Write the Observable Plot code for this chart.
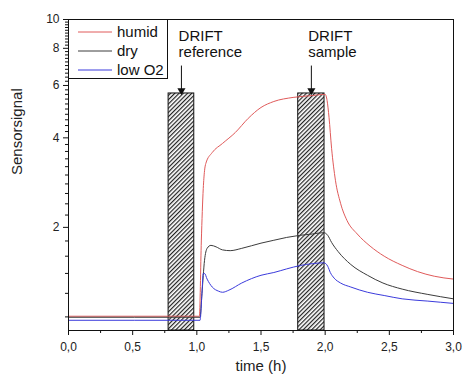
<!DOCTYPE html>
<html><head><meta charset="utf-8">
<script src="https://cdn.jsdelivr.net/npm/d3@7"></script>
<script src="https://cdn.jsdelivr.net/npm/@observablehq/plot@0.6"></script>
<style>body{margin:0;background:#fff}</style>
</head><body><div id="chart"></div>
<script>
// ---- data ----
const seriesNames = ["humid", "dry", "low O2"];
const humidT = [0, 1.02, 1.035, 1.05, 1.06, 1.07, 1.12, 1.2, 1.3, 1.4, 1.5, 1.6, 1.75, 1.9, 1.99, 2.0, 2.015, 2.03, 2.05, 2.08, 2.12, 2.17, 2.25, 2.35, 2.46, 2.6, 2.72, 2.85, 3.0];
const humidV = [1.005, 1.005, 1.8, 2.7, 3.1, 3.28, 3.57, 3.83, 4.17, 4.65, 5.06, 5.3, 5.47, 5.55, 5.6, 5.6, 5.34, 4.69, 3.69, 2.88, 2.41, 2.11, 1.9, 1.73, 1.6, 1.49, 1.42, 1.37, 1.34];
const dryT = [0, 1.025, 1.04, 1.06, 1.08, 1.11, 1.15, 1.2, 1.26, 1.35, 1.5, 1.6, 1.7, 1.8, 1.9, 1.99, 2.02, 2.05, 2.1, 2.2, 2.33, 2.45, 2.6, 2.8, 3.0];
const dryV = [0.997, 0.997, 1.2, 1.55, 1.7, 1.74, 1.72, 1.68, 1.67, 1.7, 1.77, 1.81, 1.85, 1.88, 1.9, 1.92, 1.88, 1.78, 1.66, 1.5, 1.38, 1.3, 1.24, 1.19, 1.15];
const lowT = [0, 1.025, 1.04, 1.05, 1.06, 1.08, 1.12, 1.17, 1.2, 1.25, 1.35, 1.5, 1.6, 1.7, 1.81, 1.9, 1.99, 2.02, 2.04, 2.07, 2.12, 2.2, 2.33, 2.46, 2.6, 2.8, 3.0];
const lowV = [0.974, 0.974, 1.2, 1.4, 1.4, 1.34, 1.26, 1.22, 1.21, 1.23, 1.3, 1.38, 1.41, 1.45, 1.49, 1.51, 1.52, 1.48, 1.41, 1.35, 1.3, 1.26, 1.21, 1.18, 1.15, 1.13, 1.11];
const windowNames = ["DRIFT\nreference", "DRIFT\nsample"];
const windowStart = [0.78, 1.79];
const windowEnd = [0.98, 1.995];
const windowTop = [5.64, 5.64];
const arrowFrom = [7.0, 7.0];
const yBase = 0.9, yMax = 10;
const xMajor = [0, 0.5, 1, 1.5, 2, 2.5, 3];
const xMinor = [0.25, 0.75, 1.25, 1.75, 2.25, 2.75];
const yMajor = [2, 4, 6, 8, 10];
const yMinor = d3.range(10, 100, 2).map(d => d / 10).filter(d => !yMajor.includes(d));
const xLabel = "time (h)", yLabel = "Sensorsignal";

// ---- styles ----
const colors = ["#e05a5a", "#3c3c3c", "#3b3bdc"];
const font = '"Liberation Sans", Arial, sans-serif';

const rows = [];
[[humidT, humidV], [dryT, dryV], [lowT, lowV]].forEach(([T, V], i) =>
  T.forEach((t, j) => rows.push({series: seriesNames[i], t, v: V[j]})));
const windows = windowNames.map((name, i) => ({name, x1: windowStart[i], x2: windowEnd[i], mid: (windowStart[i] + windowEnd[i]) / 2, top: windowTop[i], base: yBase, from: arrowFrom[i]}));
const fmt = d => d3.format(".1f")(d).replace(".", ",");

const chart = Plot.plot({
  width: 463, height: 378,
  marginLeft: 68, marginRight: 10, marginTop: 19, marginBottom: 48,
  style: {fontFamily: font, background: "#fff", color: "#222"},
  x: {domain: [0, 3]},
  y: {type: "log", domain: [yBase, yMax]},
  color: {domain: seriesNames, range: colors},
  marks: [
    Plot.rect(windows, {x1: "x1", x2: "x2", y1: "base", y2: "top", fill: "url(#hatch)", stroke: "#111", strokeWidth: 1}),
    Plot.line(rows, {x: "t", y: "v", z: "series", stroke: "series", strokeWidth: 1, curve: "monotone-x"}),
    Plot.link(windows, {x1: "mid", x2: "mid", y1: "from", y2: "top", stroke: "#111", strokeWidth: 1}),
    Plot.dot(windows, {x: "mid", y: "top", symbol: "triangle", r: 3, fill: "#111", rotate: 180, dy: -3}),
    Plot.text(windows, {x: "x1", frameAnchor: "top", dx: 10, dy: 9, text: "name", textAnchor: "start", lineAnchor: "top", lineHeight: 1.13, fontSize: 15, fill: "#111"}),
    Plot.frame({stroke: "#111"}),
    Plot.frame({stroke: "#111", fill: "#fff", insetRight: 286, insetBottom: 252}),
    Plot.axisX(xMajor, {tickSize: 5, tickPadding: 7, tickFormat: fmt, fontSize: 12, label: null, stroke: "#111", fill: "#222"}),
    Plot.axisX(xMinor, {tickSize: 3, tickFormat: () => "", label: null, stroke: "#111"}),
    Plot.axisY(yMajor, {tickSize: 5, tickPadding: 4, tickFormat: d => String(d), fontSize: 12, label: null, stroke: "#111", fill: "#222"}),
    Plot.axisY(yMinor, {tickSize: 3, tickFormat: () => "", label: null, stroke: "#111"}),
    Plot.text([xLabel], {frameAnchor: "bottom", dy: 40, fontSize: 15, fill: "#222"}),
    Plot.text([yLabel], {frameAnchor: "left", dx: -51, rotate: -90, fontSize: 15, fill: "#222"})
  ]
});

const svg = d3.select(chart);
const defs = svg.insert("defs", ":first-child");
const pat = defs.append("pattern").attr("id", "hatch").attr("patternUnits", "userSpaceOnUse")
  .attr("width", 3).attr("height", 10).attr("patternTransform", "rotate(45)");
pat.append("rect").attr("width", 3).attr("height", 10).attr("fill", "#fff");
pat.append("line").attr("x1", 0.6).attr("x2", 0.6).attr("y1", 0).attr("y2", 10).attr("stroke", "#222").attr("stroke-width", 1.2);

// legend entries
const lg = svg.append("g").attr("font-family", font).attr("font-size", 15).attr("text-anchor", "start");
seriesNames.forEach((name, i) => {
  const y = 32 + i * 19;
  lg.append("line").attr("x1", 78).attr("x2", 112).attr("y1", y).attr("y2", y).attr("stroke", colors[i]).attr("stroke-width", 1);
  lg.append("text").attr("x", 117).attr("y", y).attr("dy", "0.35em").attr("fill", "#111").attr("text-anchor", "start").text(name);
});

document.getElementById("chart").appendChild(chart);
</script>
</body></html>
